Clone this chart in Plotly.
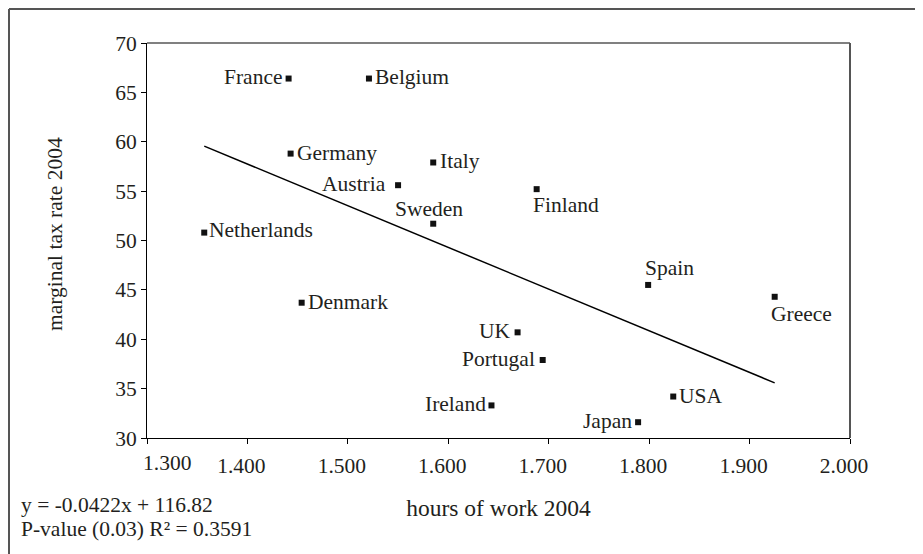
import plotly.graph_objects as go

countries = ["France", "Belgium", "Germany", "Italy", "Austria", "Sweden",
             "Netherlands", "Denmark", "Finland", "Spain", "Greece", "UK",
             "Portugal", "Ireland", "USA", "Japan"]
hours = [1441, 1521, 1443, 1585, 1550, 1585, 1357, 1454, 1688, 1799, 1925,
         1669, 1694, 1643, 1824, 1789]
tax_rate = [66.4, 66.4, 58.8, 57.9, 55.6, 51.7, 50.8, 43.7, 55.2, 45.5, 44.3,
            40.7, 37.9, 33.3, 34.2, 31.6]
# label placement: (xanchor, yanchor, xshift px, yshift px)
label_place = [("right", "middle", -5, 2), ("left", "middle", 5, 2),
               ("left", "middle", 5, 1), ("left", "middle", 6, 1),
               ("right", "middle", -11, 1), ("center", "bottom", -4, 2),
               ("left", "middle", 4, 3), ("left", "middle", 5, 1),
               ("left", "top", -5, -3), ("left", "bottom", -4, 4),
               ("left", "top", -5, -4), ("right", "middle", -6, 1),
               ("right", "middle", -7, 1), ("right", "middle", -4, 1),
               ("left", "middle", 5, 1), ("right", "middle", -5, 1)]

slope = -0.0422
intercept = 116.82
equation_lines = ["y = -0.0422x + 116.82", "P-value (0.03) R\u00b2 = 0.3591"]
x_title = "hours of work 2004"
y_title = "marginal tax rate 2004"

x_ticks = [1300, 1400, 1500, 1600, 1700, 1800, 1900, 2000]
x_tick_labels = ["1.300", "1.400", "1.500", "1.600", "1.700", "1.800", "1.900", "2.000"]
y_ticks = [30, 35, 40, 45, 50, 55, 60, 65, 70]

FONT = "Liberation Serif, Times New Roman, serif"
TXT = "#231f20"
FS = 21.5

x_lo, x_hi = min(hours), max(hours)
trend_x = [x_lo, x_hi]
trend_y = [slope * v + intercept for v in trend_x]

fig = go.Figure()
fig.add_trace(go.Scatter(x=trend_x, y=trend_y, mode="lines",
                         line=dict(color="black", width=1.5),
                         hoverinfo="skip", showlegend=False))
fig.add_trace(go.Scatter(x=hours, y=tax_rate, mode="markers",
                         text=countries,
                         marker=dict(symbol="square", size=6, color="#111"),
                         showlegend=False))

fig.update_xaxes(range=[1300, 2000], tickvals=x_ticks,
                 ticktext=[""] + x_tick_labels[1:],
                 ticks="outside", ticklen=5, tickcolor="black",
                 ticklabelshift=-6, ticklabelstandoff=3,
                 showline=True, linecolor="black", linewidth=1,
                 showgrid=False, zeroline=False,
                 tickfont=dict(family=FONT, size=FS, color=TXT),
                 title=dict(text=x_title, standoff=22,
                            font=dict(family=FONT, size=23.5, color=TXT)))
fig.update_yaxes(range=[30, 70], tickvals=y_ticks,
                 ticks="outside", ticklen=5, tickcolor="black",
                 showline=True, linecolor="black", linewidth=1,
                 showgrid=False, zeroline=False,
                 tickfont=dict(family=FONT, size=FS, color=TXT))

annotations = [dict(x=x_ticks[0], y=0, xref="x", yref="paper",
                    text=x_tick_labels[0], showarrow=False, xanchor="center",
                    yanchor="top", xshift=20, yshift=-11,
                    font=dict(family=FONT, size=FS, color=TXT)),
               dict(x=-0.1309, y=0.5165, xref="paper", yref="paper",
                    text=y_title, textangle=-90, showarrow=False,
                    xanchor="center", yanchor="middle",
                    font=dict(family=FONT, size=FS, color=TXT))]
for name, hx, ty, (xa, ya, xs, ys) in zip(countries, hours, tax_rate, label_place):
    annotations.append(dict(x=hx, y=ty, xref="x", yref="y", text=name,
                            showarrow=False, xanchor=xa, yanchor=ya,
                            xshift=xs, yshift=ys, borderpad=0,
                            font=dict(family=FONT, size=FS, color=TXT)))
for i, line in enumerate(equation_lines):
    annotations.append(dict(x=-0.182, y=-0.1696 - i * 0.0608, xref="paper", yref="paper",
                            text=line, showarrow=False, xanchor="left",
                            yanchor="middle",
                            font=dict(family=FONT, size=FS, color=TXT)))

shapes = [
    # plot-area border (top and right, gray)
    dict(type="line", xref="paper", yref="paper", x0=0, y0=1, x1=1, y1=1,
         line=dict(color="#808080", width=2)),
    dict(type="line", xref="paper", yref="paper", x0=1, y0=0, x1=1, y1=1,
         line=dict(color="#555555", width=2)),
    # outer chart frame (left and top)
    dict(type="line", xref="paper", yref="paper", x0=-0.1963, y0=1.0861,
         x1=-0.1963, y1=-0.32, line=dict(color="#555555", width=2)),
    dict(type="line", xref="paper", yref="paper", x0=-0.1963, y0=1.0861,
         x1=1.12, y1=1.0861, line=dict(color="#555555", width=2)),
]

# the page adds an 8px body margin, so the figure is 8px smaller and margins shifted
fig.update_layout(width=915, height=546,
                  margin=dict(l=139, r=73, t=35, b=116),
                  paper_bgcolor="white", plot_bgcolor="white",
                  font=dict(family=FONT, size=FS, color=TXT),
                  annotations=annotations, shapes=shapes,
                  showlegend=False)

fig.write_html("out.html")
